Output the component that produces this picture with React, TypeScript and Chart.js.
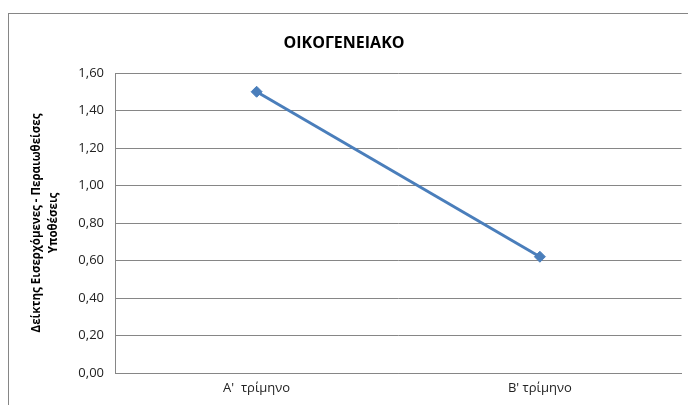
import React, { useEffect, useRef } from "react";
import { Chart, registerables } from "chart.js";

Chart.register(...registerables);

const categories = ["Α'  τρίμηνο", "Β' τρίμηνο"];
const values = [1.5, 0.62];
const chartTitle = "ΟΙΚΟΓΕΝΕΙΑΚΟ";
const yTitleLines = ["Δείκτης Εισερχόμενες - Περαιωθείσες", "Υποθέσεις"];
const yMin = 0;
const yMax = 1.6;
const yStep = 0.2;

const FONT = "'Open Sans', 'Liberation Sans', sans-serif";

const textPlugin = {
  id: "textPlugin",
  afterDraw(chart: any) {
    const { ctx, chartArea } = chart;
    ctx.save();
    ctx.fillStyle = "#000";
    ctx.textAlign = "center";
    ctx.textBaseline = "middle";
    ctx.font = `bold 16px ${FONT}`;
    ctx.fillText(chartTitle, 344, 43);
    const cy = (chartArea.top + chartArea.bottom) / 2;
    ctx.font = `bold 11.5px ${FONT}`;
    ctx.translate(37, cy);
    ctx.rotate(-Math.PI / 2);
    ctx.fillText(yTitleLines[0], 0, 0);
    ctx.fillText(yTitleLines[1], 0, 17);
    ctx.restore();
  },
};

export default function App() {
  const ref = useRef<HTMLCanvasElement>(null);
  useEffect(() => {
    if (!ref.current) return;
    const chart = new Chart(ref.current, {
      type: "line",
      data: {
        labels: categories,
        datasets: [
          {
            data: values,
            borderColor: "#4a7ebb",
            backgroundColor: "#4a7ebb",
            borderWidth: 3,
            pointStyle: "rectRot",
            pointRadius: 5.5,
            pointBorderWidth: 1,
            tension: 0,
          },
        ],
      },
      options: {
        animation: false,
        responsive: false,
        layout: { padding: { top: 73, right: 6, left: 0, bottom: 0 } },
        plugins: { legend: { display: false }, tooltip: { enabled: false }, title: { display: false } },
        scales: {
          x: {
            offset: true,
            grid: { display: false, drawTicks: false },
            border: { display: true, color: "#868686", width: 1 },
            ticks: { color: "#222", font: { family: FONT, size: 13 }, padding: 7 },
            afterFit: (s: any) => { s.height = 32; },
          },
          y: {
            min: yMin,
            max: yMax,
            grid: { color: "#868686", drawTicks: false },
            border: { display: true, color: "#868686", width: 1 },
            ticks: {
              stepSize: yStep,
              color: "#222",
              font: { family: FONT, size: 13 },
              padding: 11,
              callback: (v: any) => Number(v).toFixed(2).replace(".", ","),
            },
            afterFit: (s: any) => { s.width = 115; },
          },
        },
      },
      plugins: [textPlugin],
    });
    return () => chart.destroy();
  }, []);
  return (
    <div style={{ position: "absolute", left: 0, top: 0, width: 688, height: 405, overflow: "hidden", background: "#fff" }}>
      <div style={{ position: "absolute", left: 8, top: 13, width: 720, height: 430, border: "1px solid #868686" }} />
      <canvas ref={ref} width={688} height={405} style={{ position: "absolute", left: 0, top: 0 }} />
    </div>
  );
}
